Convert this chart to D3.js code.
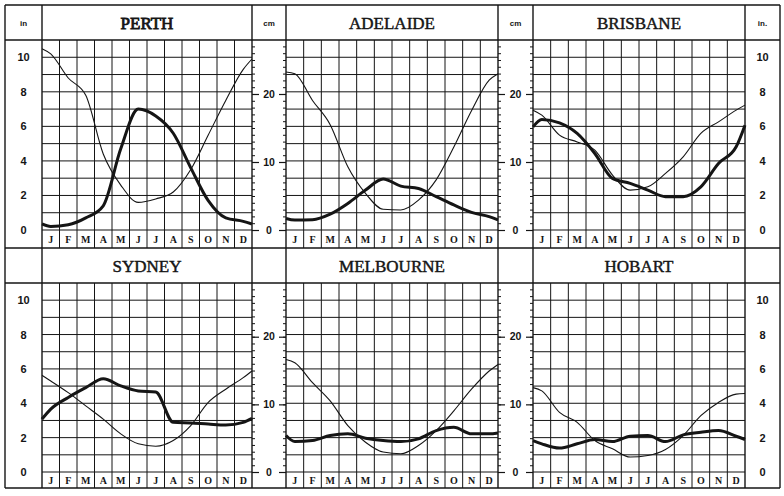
<!DOCTYPE html>
<html>
<head>
<meta charset="utf-8">
<script src="https://cdn.jsdelivr.net/npm/d3@7"></script>
<style>
  body { margin: 0; background: #fff; }
  text { fill: #151515; }
</style>
</head>
<body>
<div id="chart"></div>
<script>
var months = ["J", "F", "M", "A", "M", "J", "J", "A", "S", "O", "N", "D"];
var cities = ["PERTH", "ADELAIDE", "BRISBANE", "SYDNEY", "MELBOURNE", "HOBART"];

// inches: value at 1 Jan, then mid-month Jan..Dec, then 31 Dec
var perthRain     = [0.35, 0.2, 0.3, 0.7, 1.4, 4.7, 7.0, 6.6, 5.6, 3.6, 1.7, 0.7, 0.5, 0.35];
var perthEvap     = [10.5, 10.2, 8.8, 7.8, 4.4, 2.6, 1.6, 1.8, 2.2, 3.5, 5.5, 7.5, 9.3, 9.9];
var adelaideRain  = [0.67, 0.58, 0.6, 0.92, 1.54, 2.31, 2.95, 2.54, 2.4, 1.93, 1.45, 1.02, 0.77, 0.58];
var adelaideEvap  = [9.15, 9.05, 7.5, 6.1, 3.66, 2.12, 1.2, 1.16, 1.73, 2.9, 4.8, 6.9, 8.67, 9.05];
var brisbaneRain  = [5.97, 6.4, 6.2, 5.59, 4.43, 2.99, 2.7, 2.31, 1.93, 1.93, 2.5, 3.85, 4.82, 6.07];
var brisbaneEvap  = [6.94, 6.65, 5.49, 5.1, 4.62, 3.18, 2.31, 2.5, 3.28, 4.24, 5.59, 6.26, 6.94, 7.23];
var sydneyRain    = [3.08, 3.66, 4.34, 4.91, 5.43, 5.01, 4.72, 4.66, 2.89, 2.85, 2.79, 2.74, 2.89, 3.12];
var sydneyEvap    = [5.63, 5.3, 4.62, 3.85, 3.08, 2.22, 1.64, 1.5, 1.83, 2.7, 4.05, 4.82, 5.49, 5.88];
var melbourneRain = [2.12, 1.77, 1.83, 2.12, 2.22, 1.97, 1.83, 1.77, 1.93, 2.41, 2.6, 2.22, 2.22, 2.27];
var melbourneEvap = [6.55, 6.36, 5.2, 4.14, 2.7, 1.73, 1.16, 1.06, 1.54, 2.41, 3.56, 4.82, 5.88, 6.26];
var hobartRain    = [1.83, 1.64, 1.39, 1.64, 1.89, 1.77, 2.08, 2.12, 1.77, 2.16, 2.31, 2.41, 2.08, 1.89];
var hobartEvap    = [4.91, 4.72, 3.47, 2.89, 1.83, 1.35, 0.87, 0.96, 1.31, 2.12, 3.28, 4.05, 4.53, 4.57];

var rainData = [perthRain, adelaideRain, brisbaneRain, sydneyRain, melbourneRain, hobartRain];
var evapData = [perthEvap, adelaideEvap, brisbaneEvap, sydneyEvap, melbourneEvap, hobartEvap];

var inchTicks = [0, 2, 4, 6, 8, 10];
var cmTicks = [0, 10, 20];

/* layout */
var width = 784;
var height = 496;
var colX = [42, 286, 533];
var colW = [210, 212, 212];
var rows = [
  { top: 5, head: 40, base: 230, bottom: 248 },
  { top: 248, head: 283, base: 472, bottom: 488 }
];
var left = 5, right = 780;
var ink = "#151515";

// x positions of the values: 1 Jan, month middles, 31 Dec
var pos = [0].concat(d3.range(12).map(function (d) { return d + 0.5; }), [12]);

var svg = d3.select("#chart")
  .append("svg")
  .attr("width", width)
  .attr("height", height);

cities.forEach(function (name, i) {
  var r = rows[Math.floor(i / 3)];
  var c = i % 3;
  var x = d3.scaleLinear().domain([0, 12]).range([colX[c], colX[c] + colW[c]]);
  var y = d3.scaleLinear().domain([0, 11]).range([r.base, r.head]);
  var g = svg.append("g");

  // inch grid
  g.append("g").selectAll("line")
    .data(d3.range(1, 11))
    .join("line")
    .attr("x1", x(0)).attr("x2", x(12))
    .attr("y1", function (d) { return y(d); })
    .attr("y2", function (d) { return y(d); })
    .attr("stroke", ink).attr("stroke-width", 1);

  // month grid, running down through the month row
  g.append("g").selectAll("line")
    .data(d3.range(1, 12))
    .join("line")
    .attr("x1", function (d) { return x(d); })
    .attr("x2", function (d) { return x(d); })
    .attr("y1", r.head).attr("y2", r.bottom)
    .attr("stroke", ink).attr("stroke-width", 1);

  g.append("line")
    .attr("x1", x(0)).attr("x2", x(12))
    .attr("y1", r.base).attr("y2", r.base)
    .attr("stroke", ink).attr("stroke-width", 1.2);

  g.append("g").selectAll("text")
    .data(months)
    .join("text")
    .attr("x", function (d, j) { return x(j + 0.5); })
    .attr("y", (r.base + r.bottom) / 2 + 3.5)
    .attr("text-anchor", "middle")
    .attr("font-family", "Liberation Serif")
    .attr("font-weight", "bold")
    .attr("font-size", 10)
    .text(function (d) { return d; });

  g.append("text")
    .attr("x", (x(0) + x(12)) / 2)
    .attr("y", (r.top + r.head) / 2 + 6)
    .attr("text-anchor", "middle")
    .attr("font-family", "Liberation Serif")
    .attr("font-size", 17)
    .attr("stroke", ink)
    .attr("stroke-width", name == "PERTH" ? 0.8 : 0.45)
    .text(name);

  var line = d3.line()
    .x(function (d, j) { return x(pos[j]); })
    .y(function (d) { return y(d); })
    .curve(d3.curveMonotoneX);

  g.append("path")
    .datum(evapData[i])
    .attr("fill", "none")
    .attr("stroke", ink)
    .attr("stroke-width", 1.1)
    .attr("d", line);

  g.append("path")
    .datum(rainData[i])
    .attr("fill", "none")
    .attr("stroke", ink)
    .attr("stroke-width", 3)
    .attr("stroke-linejoin", "round")
    .attr("d", line);
});

/* frame */
var vLines = [left, 42, 252, 286, 498, 533, 745, right];
svg.append("g").selectAll("line")
  .data(vLines)
  .join("line")
  .attr("x1", function (d) { return d; })
  .attr("x2", function (d) { return d; })
  .attr("y1", rows[0].top).attr("y2", rows[1].bottom)
  .attr("stroke", ink).attr("stroke-width", 1.4);

var hLines = [rows[0].top, rows[0].head, rows[1].top, rows[1].head, rows[1].bottom];
svg.append("g").selectAll("line")
  .data(hLines)
  .join("line")
  .attr("x1", left).attr("x2", right)
  .attr("y1", function (d) { return d; })
  .attr("y2", function (d) { return d; })
  .attr("stroke", ink).attr("stroke-width", 1.4);

/* unit headers */
var units = [
  { x: (left + 42) / 2, t: "in" },
  { x: (252 + 286) / 2, t: "cm" },
  { x: (498 + 533) / 2, t: "cm" },
  { x: (745 + right) / 2, t: "in." }
];
svg.append("g").selectAll("text")
  .data(units)
  .join("text")
  .attr("x", function (d) { return d.x; })
  .attr("y", (rows[0].top + rows[0].head) / 2 + 3)
  .attr("text-anchor", "middle")
  .attr("font-family", "Liberation Sans")
  .attr("font-weight", "bold")
  .attr("font-size", 8)
  .text(function (d) { return d.t; });

/* axes */
rows.forEach(function (r) {
  var yIn = d3.scaleLinear().domain([0, 11]).range([r.base, r.head]);
  var yCm = d3.scaleLinear().domain([0, 11 * 2.54]).range([r.base, r.head]);

  [(left + 42) / 2, (745 + right) / 2].forEach(function (cx) {
    var ax = svg.append("g")
      .attr("transform", "translate(" + cx + ",0)")
      .call(d3.axisLeft(yIn).tickValues(inchTicks).tickSize(0).tickPadding(0));
    ax.select(".domain").remove();
    ax.selectAll("text")
      .attr("text-anchor", "middle")
      .attr("font-family", "Liberation Sans")
      .attr("font-weight", "bold")
      .attr("font-size", 11)
      .attr("fill", ink);
  });

  [[252, 286], [498, 533]].forEach(function (gap) {
    [[d3.axisRight, gap[0]], [d3.axisLeft, gap[1]]].forEach(function (side) {
      var minor = svg.append("g")
        .attr("transform", "translate(" + side[1] + ",0)")
        .call(side[0](yCm).tickValues(d3.range(0, 28)).tickSize(3).tickFormat(""));
      minor.select(".domain").remove();
      minor.selectAll("line").attr("stroke", ink);
      var major = svg.append("g")
        .attr("transform", "translate(" + side[1] + ",0)")
        .call(side[0](yCm).tickValues(cmTicks).tickSize(7).tickFormat(""));
      major.select(".domain").remove();
      major.selectAll("line").attr("stroke", ink).attr("stroke-width", 1.2);
    });

    svg.append("g").selectAll("text")
      .data(cmTicks)
      .join("text")
      .attr("x", (gap[0] + gap[1]) / 2)
      .attr("y", function (d) { return yCm(d); })
      .attr("dy", "0.35em")
      .attr("text-anchor", "middle")
      .attr("font-family", "Liberation Sans")
      .attr("font-weight", "bold")
      .attr("font-size", 10.5)
      .text(function (d) { return d; });
  });
});
</script>
</body>
</html>
